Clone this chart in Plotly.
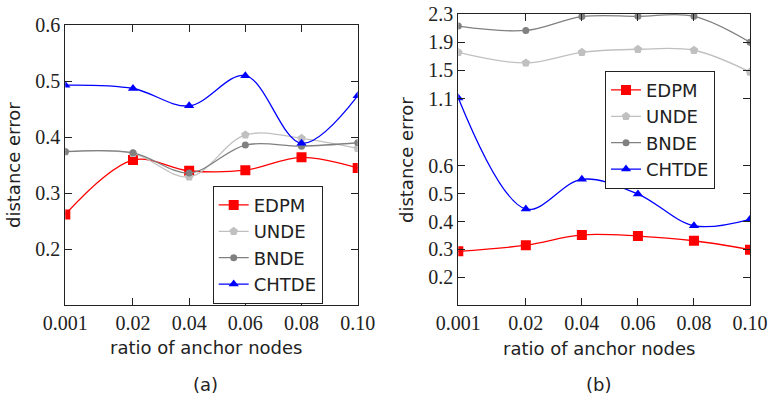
import plotly.graph_objects as go

# ---------------- data ----------------
ratio_labels = ["0.001", "0.02", "0.04", "0.06", "0.08", "0.10"]
ratios = [0.001, 0.02, 0.04, 0.06, 0.08, 0.10]
series_names = ["EDPM", "UNDE", "BNDE", "CHTDE"]

# panel (a)
a_EDPM = [0.262, 0.359, 0.340, 0.341, 0.364, 0.345]
a_UNDE = [0.374, 0.371, 0.329, 0.404, 0.398, 0.380]
a_BNDE = [0.374, 0.372, 0.336, 0.386, 0.384, 0.390]
a_CHTDE = [0.493, 0.487, 0.456, 0.510, 0.389, 0.474]

# panel (b)
b_EDPM = [0.293, 0.315, 0.352, 0.348, 0.331, 0.299]
b_UNDE = [1.757, 1.606, 1.757, 1.800, 1.786, 1.477]
b_BNDE = [2.129, 2.067, 2.263, 2.267, 2.267, 1.900]
b_CHTDE = [1.110, 0.445, 0.552, 0.499, 0.385, 0.408]

a_yticks = [0.2, 0.3, 0.4, 0.5, 0.6]
a_yticklabels = ["0.2", "0.3", "0.4", "0.5", "0.6"]
b_yticks = [0.2, 0.3, 0.4, 0.5, 0.6, 1.1, 1.5, 1.9, 2.3]
b_yticklabels = ["0.2", "0.3", "0.4", "0.5", "0.6", "1.1", "1.5", "1.9", "2.3"]

# ---------------- axis mappings ----------------
FIRST_GAP = 0.0241  # axis span of first interval (wider than the others)


def xmap(r):
    if r >= 0.02:
        return r
    return 0.02 - (0.02 - r) / (0.02 - 0.001) * FIRST_GAP


def ymap_b(y):
    # piecewise-linear (broken) scale of panel (b)
    s_mid, s_high = 0.484, 0.2536
    if y <= 0.6:
        return y
    if y <= 1.1:
        return 0.6 + (y - 0.6) * s_mid
    return 0.6 + 0.5 * s_mid + (y - 1.1) * s_high


xs = [xmap(r) for r in ratios]

styles = {
    "EDPM": dict(color="#ff0000", symbol="square", size=10),
    "UNDE": dict(color="#c0c0c0", symbol="pentagon", size=9),
    "BNDE": dict(color="#808080", symbol="circle", size=7),
    "CHTDE": dict(color="#0000ff", symbol="triangle-up", size=9),
}

fig = go.Figure()

a_data = dict(EDPM=a_EDPM, UNDE=a_UNDE, BNDE=a_BNDE, CHTDE=a_CHTDE)
b_data = dict(EDPM=b_EDPM, UNDE=b_UNDE, BNDE=b_BNDE, CHTDE=b_CHTDE)

for name in series_names:
    st = styles[name]
    fig.add_trace(go.Scatter(
        x=xs, y=a_data[name], name=name, mode="lines+markers",
        line=dict(color=st["color"], width=1.3, shape="spline", smoothing=1.0),
        marker=dict(color=st["color"], symbol=st["symbol"], size=st["size"]),
        xaxis="x", yaxis="y", legend="legend"))

for name in series_names:
    st = styles[name]
    fig.add_trace(go.Scatter(
        x=xs, y=[ymap_b(v) for v in b_data[name]], name=name, mode="lines+markers",
        line=dict(color=st["color"], width=1.3, shape="spline", smoothing=1.0),
        marker=dict(color=st["color"], symbol=st["symbol"], size=st["size"]),
        customdata=b_data[name], hovertemplate="%{customdata}",
        xaxis="x2", yaxis="y2", legend="legend2"))

W, H = 770, 399
tickfont = dict(family="Liberation Serif, serif", size=20, color="#222")
sans = "DejaVu Sans"

common_axis = dict(showline=True, linecolor="#222", linewidth=1, mirror="allticks",
                   ticks="inside", ticklen=7, tickcolor="#222", tickwidth=1,
                   showgrid=False, zeroline=False, tickfont=tickfont, automargin=False)

xr = [xmap(0.001), 0.10]

fig.update_layout(
    width=W, height=H,
    margin=dict(l=0, r=0, t=0, b=0),
    paper_bgcolor="white", plot_bgcolor="white",
    showlegend=True,
    xaxis=dict(domain=[65.3 / W, 357.7 / W], range=xr, tickvals=xs, ticktext=ratio_labels,
               anchor="y", **common_axis),
    yaxis=dict(domain=[1 - 305 / H, 1 - 25.3 / H], range=[0.1, 0.6], tickvals=a_yticks,
               ticktext=a_yticklabels, anchor="x", **common_axis),
    xaxis2=dict(domain=[458.3 / W, 750 / W], range=xr, tickvals=xs, ticktext=ratio_labels,
                anchor="y2", **common_axis),
    yaxis2=dict(domain=[1 - 305 / H, 1 - 14 / H], range=[0.1, ymap_b(2.3)],
                tickvals=[ymap_b(v) for v in b_yticks], ticktext=b_yticklabels,
                anchor="x2", **common_axis),
    legend=dict(x=212.7 / W, y=1 - 185.7 / H, xanchor="left", yanchor="top",
                bgcolor="white", bordercolor="#222", borderwidth=1,
                font=dict(family=sans, size=18, color="#222"), tracegroupgap=0),
    legend2=dict(x=605 / W, y=1 - 70.7 / H, xanchor="left", yanchor="top",
                 bgcolor="white", bordercolor="#222", borderwidth=1,
                 font=dict(family=sans, size=18, color="#222"), tracegroupgap=0),
)

ann_font = dict(family=sans, size=18, color="#222")
annotations = [
    dict(text="ratio of anchor nodes", x=206 / W, y=1 - 347 / H),
    dict(text="ratio of anchor nodes", x=599 / W, y=1 - 348 / H),
    dict(text="distance error", x=14 / W, y=1 - 165 / H, textangle=-90),
    dict(text="distance error", x=406 / W, y=1 - 160 / H, textangle=-90),
    dict(text="(a)", x=206 / W, y=1 - 384 / H),
    dict(text="(b)", x=598 / W, y=1 - 384 / H),
]
for a in annotations:
    fig.add_annotation(xref="paper", yref="paper", showarrow=False, font=ann_font,
                       xanchor="center", yanchor="middle", **a)

fig.write_html("out.html", config={"displayModeBar": False},
               post_script="document.body.style.margin='0';document.body.style.overflow='hidden';")
